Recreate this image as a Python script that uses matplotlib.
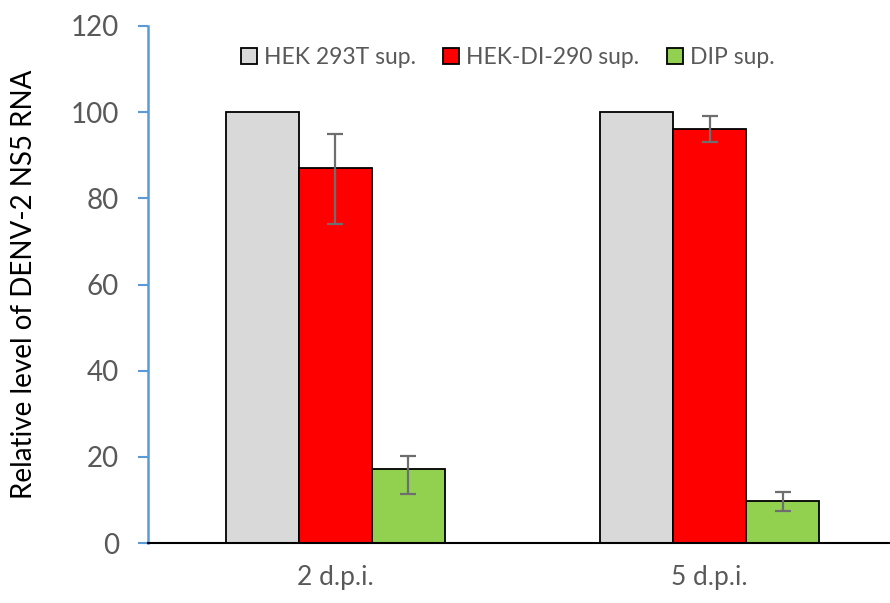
import matplotlib.pyplot as plt
import numpy as np

categories = ["2 d.p.i.", "5 d.p.i."]
series = ["HEK 293T sup.", "HEK-DI-290 sup.", "DIP sup."]
colors = ["#d9d9d9", "#ff0000", "#92d050"]
values = [[100, 100], [87, 96], [17.2, 9.8]]
err_low = [[0, 0], [13, 2.9], [5.9, 2.4]]
err_high = [[0, 0], [8, 3.2], [3.1, 2.1]]

plt.rcParams['font.family'] = ['Lato', 'DejaVu Sans']

fig = plt.figure(figsize=(8.9, 6.03), dpi=100)
ax = fig.add_axes([148 / 890, 1 - 543 / 603, 749 / 890, 517 / 603])

x = np.arange(len(categories))
w = 0.195
for i, name in enumerate(series):
    pos = x + (i - 1) * w
    ax.bar(pos, values[i], w, color=colors[i], edgecolor="black", linewidth=1.3,
           label=name, zorder=2)
    if any(err_high[i]):
        ax.errorbar(pos, values[i], yerr=[err_low[i], err_high[i]], fmt="none",
                    ecolor="#6e6e6e", elinewidth=1.6, capsize=6, capthick=1.6, zorder=3)

ax.set_xlim(-0.5, 1.5)
ax.set_ylim(0, 120)
ax.set_yticks(range(0, 121, 20))
ax.set_xticks(x)
ax.set_xticklabels(categories)
ax.tick_params(axis="y", colors="#5b9bd5", labelcolor="#595959", labelsize=20,
               length=7, width=1.5, direction="out", pad=14)
ax.tick_params(axis="x", length=0, labelcolor="#595959", labelsize=19, pad=16)
ax.spines["left"].set_color("#5b9bd5")
ax.spines["left"].set_linewidth(1.8)
ax.spines["bottom"].set_color("black")
ax.spines["bottom"].set_linewidth(1.5)
ax.spines["top"].set_visible(False)
ax.spines["right"].set_visible(False)
ax.set_ylabel("Relative level of DENV-2 NS5 RNA", fontsize=20, color="black", labelpad=24)

leg = ax.legend(loc="upper center", bbox_to_anchor=(0.48, 1.0), ncol=3, frameon=False,
                fontsize=16.5, handlelength=0.7, handleheight=0.7, handletextpad=0.3,
                columnspacing=1.2)
for t in leg.get_texts():
    t.set_color("#595959")

fig.savefig("out.png", dpi=100)
